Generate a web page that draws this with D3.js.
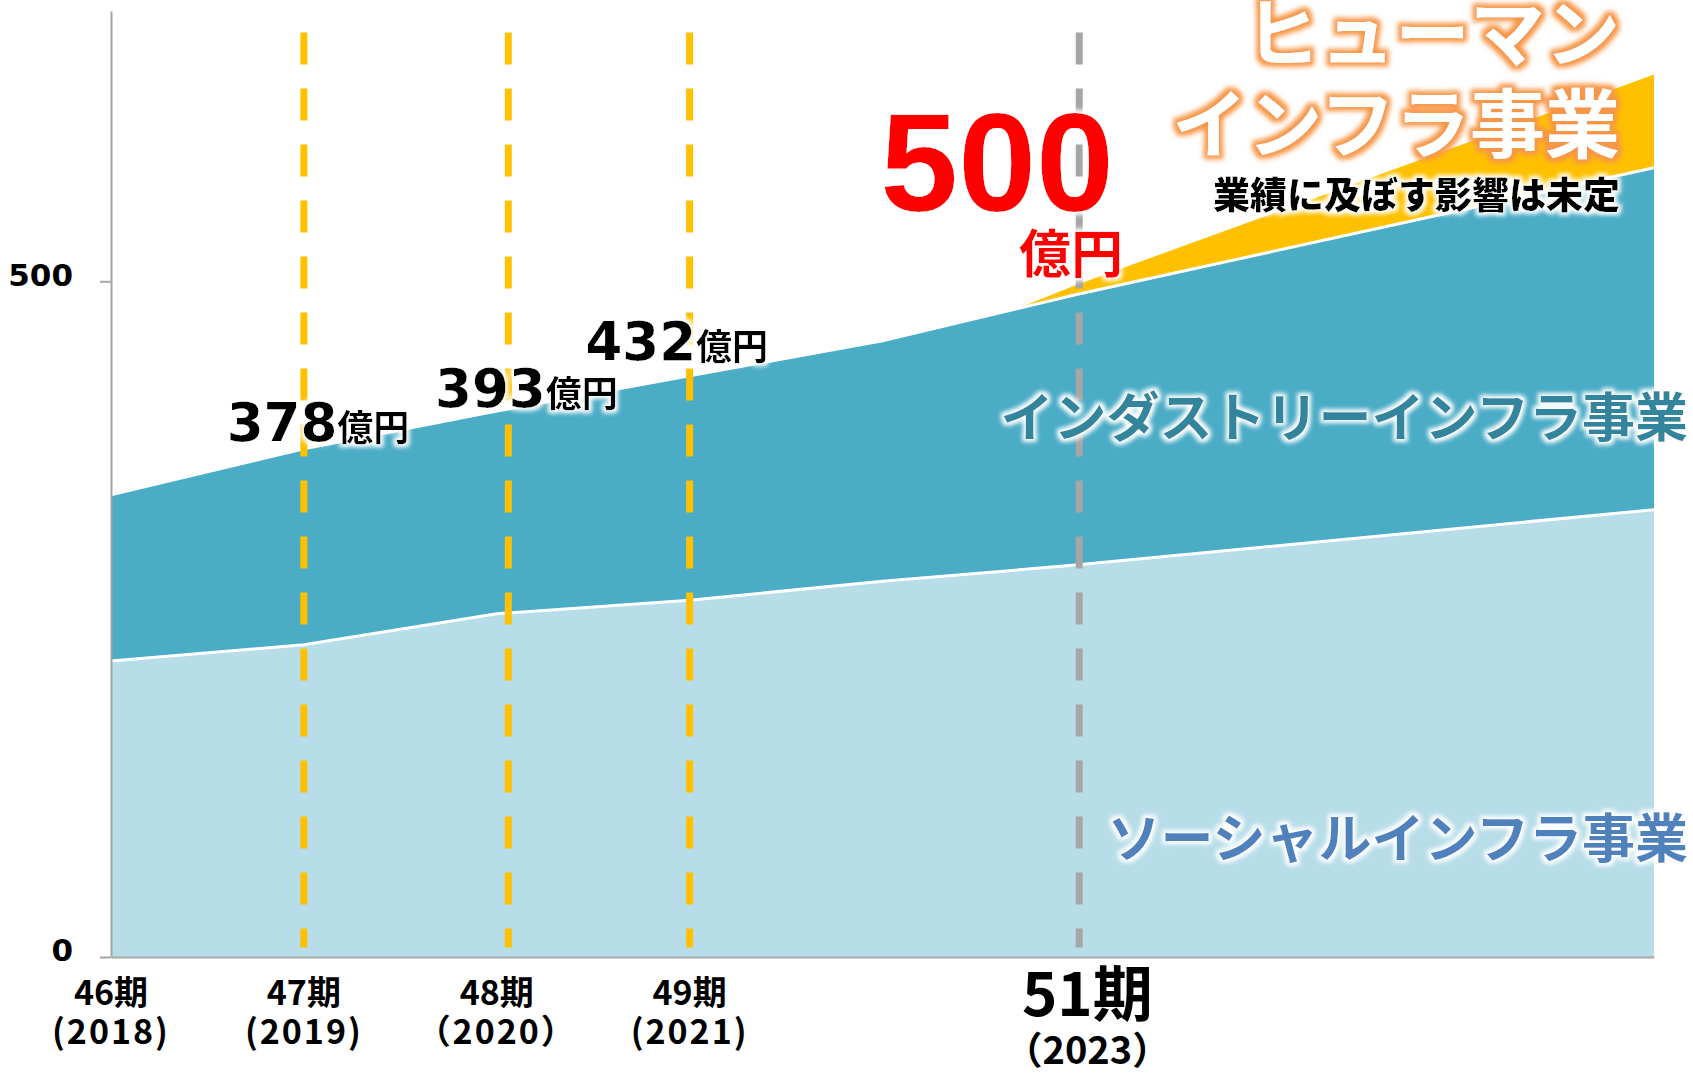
<!DOCTYPE html>
<html lang="ja">
  <head>
    <meta charset="UTF-8" />
    <title>売上高推移</title>
    <script src="https://d3js.org/d3.v7.min.js"></script>
    <style>
      body {
        margin: 0;
        background: #fff;
      }
      svg {
        display: block;
      }
      .jp {
        font-family: "Noto Sans CJK JP", "Noto Sans", sans-serif;
        font-weight: 700;
      }
      .num {
        font-family: "DejaVu Sans", Verdana, sans-serif;
        font-weight: 700;
      }
    </style>
  </head>
  <body>
    <svg id="chart" width="1693" height="1075"></svg>

    <script>
      // periods (期) and stacked values (億円)
      const periods = [46, 47, 48, 49, 50, 51, 54];
      const social = [219, 231, 254, 264, 278, 290, 331];
      const industry = [123, 145, 150, 166, 178, 200, 253];

      // human infra wedge, added on top of the total
      const humanPeriods = [50.7, 51, 54];
      const humanValues = [0, 7, 69];

      // x axis labels
      const tickPeriods = [46, 47, 48, 49, 51];
      const tickNames = ["46期", "47期", "48期", "49期", "51期"];
      const tickYears = ["(2018)", "(2019)", "（2020）", "(2021)", "（2023）"];

      // dashed guides
      const guidePeriods = [47, 48.06, 49, 51.02];

      // sales callouts
      const calloutValues = ["378", "393", "432"];
      const calloutPeriods = [46.6, 47.68, 48.46];
      const calloutLevels = [382, 407, 442];

      const svg = d3.select("#chart");

      const x = d3.scaleLinear().domain([46, 54]).range([111, 1654]);
      const y = d3.scaleLinear().domain([0, 700]).range([957, 11]);

      // glow filters
      const defs = svg.append("defs");
      function glow(id, color, radius, blur) {
        const f = defs
          .append("filter")
          .attr("id", id)
          .attr("x", "-20%")
          .attr("y", "-30%")
          .attr("width", "140%")
          .attr("height", "160%");
        f.append("feMorphology")
          .attr("in", "SourceAlpha")
          .attr("operator", "dilate")
          .attr("radius", radius)
          .attr("result", "d");
        f.append("feGaussianBlur")
          .attr("in", "d")
          .attr("stdDeviation", blur)
          .attr("result", "b");
        f.append("feFlood").attr("flood-color", color);
        f.append("feComposite").attr("in2", "b").attr("operator", "in").attr("result", "g");
        const m = f.append("feMerge");
        m.append("feMergeNode").attr("in", "g");
        m.append("feMergeNode").attr("in", "SourceGraphic");
      }
      glow("glowWhite", "#ffffff", 3, 2);
      glow("glowOrange", "#F79646", 4, 2.5);

      // stacked areas
      const rows = periods.map((p, i) => ({ p: p, social: social[i], industry: industry[i] }));
      const stack = d3.stack().keys(["social", "industry"])(rows);
      const fills = { social: "#B7DDE8", industry: "#4BACC6" };

      const area = d3
        .area()
        .x((d) => x(d.data.p))
        .y0((d) => y(d[0]))
        .y1((d) => y(d[1]));
      const topLine = d3
        .line()
        .x((d) => x(d.data.p))
        .y((d) => y(d[1]));

      const totals = rows.map((r) => r.social + r.industry);
      const totalAt = d3.scaleLinear().domain(periods).range(totals);

      const humanRows = humanPeriods.map((p, i) => ({
        p: p,
        lo: totalAt(p),
        hi: totalAt(p) + humanValues[i],
      }));

      svg
        .append("path")
        .datum(humanRows)
        .attr("fill", "#FFC000")
        .attr(
          "d",
          d3
            .area()
            .x((d) => x(d.p))
            .y0((d) => y(d.lo))
            .y1((d) => y(d.hi))
        );

      stack.forEach((layer) => {
        svg.append("path").datum(layer).attr("fill", fills[layer.key]).attr("d", area);
      });
      stack.forEach((layer) => {
        svg
          .append("path")
          .datum(layer)
          .attr("fill", "none")
          .attr("stroke", "#fff")
          .attr("stroke-width", 3)
          .attr("d", topLine);
      });

      // axes
      const yAxis = svg
        .append("g")
        .attr("transform", `translate(${x(46)},0)`)
        .call(d3.axisLeft(y).tickValues([0, 500]).tickSize(11).tickSizeOuter(0).tickPadding(27));
      const xAxis = svg
        .append("g")
        .attr("transform", `translate(0,${y(0)})`)
        .call(d3.axisBottom(x).tickValues([]).tickSizeOuter(0));
      [yAxis, xAxis].forEach((g) => {
        g.selectAll("path,line").attr("stroke", "#A6A6A6").attr("stroke-width", 2);
      });
      yAxis
        .selectAll("text")
        .attr("class", "num")
        .attr("dy", "0.12em")
        .style("font-size", "31px")
        .attr("fill", "#000");

      // x labels
      tickPeriods.forEach((p, i) => {
        const big = p === 51;
        const cx = x(p) + (big ? 12 : 0);
        svg
          .append("text")
          .attr("class", "jp")
          .attr("x", cx)
          .attr("y", big ? 1016 : 1005)
          .attr("text-anchor", "middle")
          .style("font-size", big ? "60px" : "34px")
          .text(tickNames[i]);
        svg
          .append("text")
          .attr("class", "jp")
          .attr("x", cx)
          .attr("y", big ? 1064 : 1044)
          .attr("text-anchor", "middle")
          .style("font-size", big ? "38px" : "34px")
          .style("letter-spacing", big ? "0px" : "2px")
          .text(tickYears[i]);
      });

      // dashed guides
      guidePeriods.forEach((p, i) => {
        svg
          .append("line")
          .attr("x1", x(p))
          .attr("x2", x(p))
          .attr("y1", y(684))
          .attr("y2", y(7))
          .attr("stroke", i === guidePeriods.length - 1 ? "#A6A6A6" : "#FFC000")
          .attr("stroke-width", 7)
          .attr("stroke-dasharray", "32 24");
      });

      // callouts
      calloutValues.forEach((v, i) => {
        const t = svg
          .append("text")
          .attr("x", x(calloutPeriods[i]))
          .attr("y", y(calloutLevels[i]))
          .attr("filter", "url(#glowWhite)");
        t.append("tspan").attr("class", "num").style("font-size", "53px").text(v);
        t.append("tspan").attr("class", "jp").style("font-size", "36px").text("億円");
      });

      svg
        .append("text")
        .attr("x", x(50.594))
        .attr("y", y(552))
        .attr("text-anchor", "middle")
        .attr("fill", "#FF0000")
        .attr("filter", "url(#glowWhite)")
        .style("font-family", "'Liberation Sans', Arial, sans-serif")
        .style("font-weight", 700)
        .style("font-size", "140px")
        .text("500");
      svg
        .append("text")
        .attr("class", "jp")
        .attr("x", x(51.247))
        .attr("y", y(506))
        .attr("text-anchor", "end")
        .attr("fill", "#FF0000")
        .attr("filter", "url(#glowWhite)")
        .style("font-size", "52px")
        .text("億円");

      // segment names
      const humanLines = ["ヒューマン", "インフラ事業"];
      const humanLevels = [663, 596];
      humanLines.forEach((s, j) => {
        svg
          .append("text")
          .attr("class", "jp")
          .attr("x", x(53.824))
          .attr("y", y(humanLevels[j]))
          .attr("text-anchor", "end")
          .attr("fill", "#fff")
          .attr("filter", "url(#glowOrange)")
          .style("font-size", "75px")
          .text(s);
      });
      svg
        .append("text")
        .attr("class", "jp")
        .attr("x", x(53.824))
        .attr("y", y(553.5))
        .attr("text-anchor", "end")
        .attr("fill", "#000")
        .attr("filter", "url(#glowWhite)")
        .style("font-size", "37px")
        .style("font-weight", 900)
        .text("業績に及ぼす影響は未定");

      svg
        .append("text")
        .attr("class", "jp")
        .attr("x", x(54.176))
        .attr("y", y(385))
        .attr("text-anchor", "end")
        .attr("fill", "#31859C")
        .attr("filter", "url(#glowWhite)")
        .style("font-size", "53px")
        .text("インダストリーインフラ事業");
      svg
        .append("text")
        .attr("class", "jp")
        .attr("x", x(54.176))
        .attr("y", y(73))
        .attr("text-anchor", "end")
        .attr("fill", "#4F81BD")
        .attr("filter", "url(#glowWhite)")
        .style("font-size", "53px")
        .text("ソーシャルインフラ事業");
    </script>
  </body>
</html>
